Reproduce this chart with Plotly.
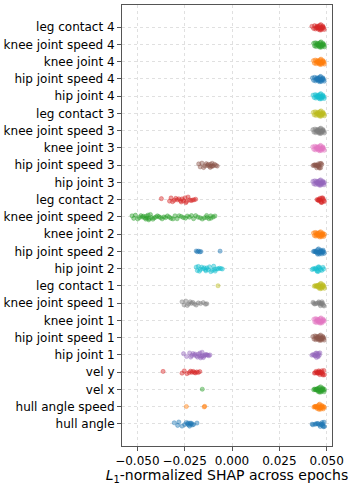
import plotly.graph_objects as go

# categories from bottom to top
categories = [
    "hull angle", "hull angle speed", "vel x", "vel y",
    "hip joint 1", "hip joint speed 1", "knee joint 1", "knee joint speed 1", "leg contact 1",
    "hip joint 2", "hip joint speed 2", "knee joint 2", "knee joint speed 2", "leg contact 2",
    "hip joint 3", "hip joint speed 3", "knee joint 3", "knee joint speed 3", "leg contact 3",
    "hip joint 4", "hip joint speed 4", "knee joint 4", "knee joint speed 4", "leg contact 4",
]

hull_angle = [-0.0305, -0.0287, -0.0281, -0.0264, -0.0250, -0.0241, -0.0236, -0.0231, -0.0228,
              -0.0224, -0.0221, -0.0218, -0.0214, -0.0209, -0.0203, -0.0185,
              0.0423, 0.0427, 0.0438, 0.0444, 0.0449, 0.0455, 0.0461, 0.0466, 0.0472, 0.0476,
              0.0479, 0.0483, 0.0486, 0.0488, 0.0481, 0.0469]
hull_angle_speed = [-0.0241, -0.0147, -0.0144,
                    0.0432, 0.0437, 0.0441, 0.0446, 0.0450, 0.0453, 0.0457, 0.0460, 0.0463, 0.0467,
                    0.0470, 0.0473, 0.0476, 0.0479, 0.0482, 0.0485, 0.0487, 0.0448, 0.0458, 0.0469,
                    0.0439, 0.0474, 0.0462]
vel_x = [-0.0157,
         0.0431, 0.0436, 0.0440, 0.0444, 0.0448, 0.0451, 0.0455, 0.0458, 0.0461, 0.0465, 0.0468,
         0.0471, 0.0474, 0.0477, 0.0480, 0.0483, 0.0486, 0.0488, 0.0446, 0.0457, 0.0469, 0.0478,
         0.0452, 0.0463]
vel_y = [-0.0364, -0.0264, -0.0252, -0.0238, -0.0226, -0.0219, -0.0212, -0.0205, -0.0199,
         -0.0193, -0.0186, -0.0178, -0.0170,
         0.0435, 0.0440, 0.0444, 0.0449, 0.0453, 0.0457, 0.0460, 0.0464, 0.0467, 0.0471, 0.0474,
         0.0478, 0.0481, 0.0485, 0.0488, 0.0450, 0.0462, 0.0476, 0.0458]
hip_joint_1 = [-0.0256, -0.0240, -0.0224, -0.0218, -0.0212, -0.0206, -0.0199, -0.0194, -0.0188,
               -0.0182, -0.0177, -0.0171, -0.0166, -0.0160, -0.0156, -0.0151, -0.0147, -0.0142,
               -0.0138, -0.0133, -0.0128, -0.0122, -0.0117, -0.0169, -0.0158,
               0.0422, 0.0428, 0.0433, 0.0438, 0.0442, 0.0446, 0.0450, 0.0453, 0.0457, 0.0461,
               0.0464, 0.0447, 0.0440, 0.0455]
hip_joint_speed_1 = [0.0427, 0.0433, 0.0438, 0.0442, 0.0446, 0.0450, 0.0454, 0.0458, 0.0461,
                     0.0464, 0.0467, 0.0470, 0.0473, 0.0476, 0.0479, 0.0482, 0.0485, 0.0487,
                     0.0444, 0.0456, 0.0468, 0.0477, 0.0452, 0.0462]
knee_joint_1 = [0.0432, 0.0437, 0.0441, 0.0445, 0.0449, 0.0452, 0.0456, 0.0459, 0.0462, 0.0466,
                0.0469, 0.0472, 0.0475, 0.0478, 0.0481, 0.0484, 0.0487, 0.0447, 0.0458, 0.0470,
                0.0480, 0.0454, 0.0465]
knee_joint_speed_1 = [-0.0264, -0.0253, -0.0244, -0.0236, -0.0229, -0.0221, -0.0214, -0.0207,
                      -0.0198, -0.0189, -0.0178, -0.0166, -0.0152, -0.0140, -0.0133,
                      0.0428, 0.0432, 0.0437, 0.0443, 0.0452, 0.0458, 0.0463, 0.0467, 0.0471,
                      0.0475, 0.0479, 0.0483, 0.0486, 0.0461, 0.0473]
leg_contact_1 = [-0.0074,
                 0.0434, 0.0439, 0.0443, 0.0447, 0.0451, 0.0455, 0.0458, 0.0461, 0.0465, 0.0468,
                 0.0471, 0.0474, 0.0477, 0.0480, 0.0483, 0.0486, 0.0488, 0.0449, 0.0460, 0.0470,
                 0.0479, 0.0456, 0.0466]
hip_joint_2 = [-0.0189, -0.0183, -0.0178, -0.0172, -0.0167, -0.0160, -0.0153, -0.0146, -0.0140,
               -0.0133, -0.0126, -0.0119, -0.0112, -0.0104, -0.0097, -0.0089, -0.0081, -0.0073,
               -0.0066, -0.0058, -0.0051, -0.0093, -0.0138,
               0.0423, 0.0429, 0.0436, 0.0441, 0.0446, 0.0451, 0.0455, 0.0459, 0.0463, 0.0468,
               0.0474, 0.0480, 0.0484, 0.0448, 0.0457]
hip_joint_speed_2 = [-0.0189, -0.0183, -0.0177, -0.0170, -0.0164, -0.0063,
                     0.0430, 0.0435, 0.0439, 0.0443, 0.0447, 0.0451, 0.0455, 0.0459, 0.0462,
                     0.0466, 0.0469, 0.0472, 0.0475, 0.0478, 0.0481, 0.0484, 0.0487, 0.0445,
                     0.0457, 0.0468, 0.0479, 0.0452, 0.0464]
knee_joint_2 = [0.0430, 0.0435, 0.0439, 0.0443, 0.0447, 0.0450, 0.0454, 0.0457, 0.0461, 0.0464,
                0.0467, 0.0470, 0.0473, 0.0476, 0.0479, 0.0482, 0.0485, 0.0488, 0.0445, 0.0456,
                0.0468, 0.0478, 0.0452, 0.0462, 0.0474]
knee_joint_speed_2 = [-0.0528, -0.0519, -0.0510, -0.0498, -0.0489, -0.0481, -0.0474, -0.0468,
                      -0.0461, -0.0455, -0.0449, -0.0443, -0.0437, -0.0431, -0.0425, -0.0418,
                      -0.0410, -0.0402, -0.0394, -0.0386, -0.0378, -0.0369, -0.0360, -0.0351,
                      -0.0341, -0.0331, -0.0322, -0.0312, -0.0301, -0.0290, -0.0279, -0.0268,
                      -0.0257, -0.0246, -0.0236, -0.0225, -0.0214, -0.0203, -0.0192, -0.0180,
                      -0.0168, -0.0157, -0.0146, -0.0134, -0.0122, -0.0111, -0.0099, -0.0090,
                      -0.0452, -0.0440, -0.0133, -0.0112]
leg_contact_2 = [-0.0373, -0.0330, -0.0322, -0.0314, -0.0305, -0.0297, -0.0289, -0.0281,
                 -0.0272, -0.0264, -0.0256, -0.0248, -0.0240, -0.0232, -0.0224, -0.0216,
                 -0.0208, -0.0200, -0.0192, -0.0268, -0.0244,
                 0.0449, 0.0453, 0.0457, 0.0461, 0.0464, 0.0467, 0.0470, 0.0473, 0.0476,
                 0.0479, 0.0482, 0.0485, 0.0488, 0.0459, 0.0471]
hip_joint_3 = [0.0427, 0.0432, 0.0437, 0.0441, 0.0445, 0.0449, 0.0452, 0.0456, 0.0459, 0.0462,
               0.0465, 0.0468, 0.0471, 0.0474, 0.0477, 0.0480, 0.0483, 0.0486, 0.0488, 0.0447,
               0.0458, 0.0469, 0.0479, 0.0454, 0.0464]
hip_joint_speed_3 = [-0.0176, -0.0168, -0.0159, -0.0150, -0.0143, -0.0136, -0.0130, -0.0125,
                     -0.0120, -0.0115, -0.0110, -0.0105, -0.0099, -0.0092, -0.0085, -0.0078,
                     -0.0113, -0.0104,
                     0.0428, 0.0433, 0.0437, 0.0441, 0.0445, 0.0449, 0.0452, 0.0456, 0.0459,
                     0.0462, 0.0465, 0.0468, 0.0471, 0.0474, 0.0447, 0.0458]
knee_joint_3 = [0.0426, 0.0432, 0.0437, 0.0441, 0.0445, 0.0449, 0.0453, 0.0456, 0.0459, 0.0463,
                0.0466, 0.0469, 0.0472, 0.0475, 0.0478, 0.0481, 0.0484, 0.0487, 0.0446, 0.0457,
                0.0468, 0.0479, 0.0452, 0.0463]
knee_joint_speed_3 = [0.0427, 0.0433, 0.0438, 0.0442, 0.0446, 0.0450, 0.0453, 0.0457, 0.0460,
                      0.0463, 0.0466, 0.0469, 0.0472, 0.0475, 0.0478, 0.0481, 0.0484, 0.0487,
                      0.0448, 0.0459, 0.0470, 0.0480, 0.0455, 0.0465]
leg_contact_3 = [0.0429, 0.0434, 0.0439, 0.0443, 0.0447, 0.0451, 0.0454, 0.0458, 0.0461, 0.0464,
                 0.0467, 0.0470, 0.0473, 0.0476, 0.0479, 0.0482, 0.0485, 0.0488, 0.0449, 0.0460,
                 0.0471, 0.0480, 0.0456, 0.0466]
hip_joint_4 = [0.0428, 0.0434, 0.0439, 0.0443, 0.0447, 0.0451, 0.0455, 0.0458, 0.0461, 0.0464,
               0.0467, 0.0470, 0.0473, 0.0476, 0.0479, 0.0482, 0.0485, 0.0487, 0.0448, 0.0459,
               0.0469, 0.0478, 0.0455, 0.0465]
hip_joint_speed_4 = [0.0425, 0.0431, 0.0436, 0.0441, 0.0445, 0.0449, 0.0453, 0.0456, 0.0460,
                     0.0463, 0.0466, 0.0469, 0.0472, 0.0475, 0.0478, 0.0481, 0.0484, 0.0487,
                     0.0447, 0.0458, 0.0468, 0.0479, 0.0453, 0.0464]
knee_joint_4 = [0.0430, 0.0435, 0.0440, 0.0444, 0.0448, 0.0452, 0.0455, 0.0459, 0.0462, 0.0465,
                0.0468, 0.0471, 0.0474, 0.0477, 0.0480, 0.0483, 0.0486, 0.0488, 0.0449, 0.0460,
                0.0470, 0.0479, 0.0456, 0.0466]
knee_joint_speed_4 = [0.0431, 0.0436, 0.0440, 0.0444, 0.0448, 0.0452, 0.0455, 0.0459, 0.0462,
                      0.0465, 0.0468, 0.0471, 0.0474, 0.0477, 0.0480, 0.0483, 0.0486, 0.0488,
                      0.0449, 0.0460, 0.0470, 0.0479, 0.0456, 0.0466]
leg_contact_4 = [0.0422, 0.0431, 0.0436, 0.0441, 0.0445, 0.0449, 0.0453, 0.0456, 0.0460, 0.0463,
                 0.0466, 0.0469, 0.0472, 0.0475, 0.0478, 0.0481, 0.0484, 0.0487, 0.0448, 0.0459,
                 0.0470, 0.0479, 0.0455, 0.0465]

series = [
    hull_angle, hull_angle_speed, vel_x, vel_y,
    hip_joint_1, hip_joint_speed_1, knee_joint_1, knee_joint_speed_1, leg_contact_1,
    hip_joint_2, hip_joint_speed_2, knee_joint_2, knee_joint_speed_2, leg_contact_2,
    hip_joint_3, hip_joint_speed_3, knee_joint_3, knee_joint_speed_3, leg_contact_3,
    hip_joint_4, hip_joint_speed_4, knee_joint_4, knee_joint_speed_4, leg_contact_4,
]

x_ticks = [-0.05, -0.025, 0.0, 0.025, 0.05]
x_tick_labels = ["\u22120.050", "\u22120.025", "0.000", "0.025", "0.050"]

tab10 = [(31, 119, 180), (255, 127, 14), (44, 160, 44), (214, 39, 40), (148, 103, 189),
         (140, 86, 75), (227, 119, 194), (127, 127, 127), (188, 189, 34), (23, 190, 207)]

fig = go.Figure()
for i, (cat, vals) in enumerate(zip(categories, series)):
    r, g, b = tab10[i % 10]
    fig.add_trace(go.Box(
        x=vals, y=[cat] * len(vals), orientation="h",
        boxpoints="all", jitter=0.7, pointpos=0, width=0.5,
        fillcolor="rgba(0,0,0,0)", line=dict(color="rgba(0,0,0,0)", width=0),
        marker=dict(size=4.2, color=f"rgba({r},{g},{b},0.45)",
                    line=dict(color=f"rgba({r},{g},{b},0.6)", width=0.6)),
        showlegend=False, hoveron="points",
    ))

font = "DejaVu Sans, sans-serif"
fig.update_layout(
    width=349, height=485, autosize=False,
    margin=dict(l=122, r=17, t=5, b=39),
    paper_bgcolor="white", plot_bgcolor="white",
    font=dict(family=font, size=12, color="black"),
    boxmode="overlay",
)
fig.update_xaxes(
    range=[-0.0581, 0.0528], autorange=False,
    tickvals=x_ticks, ticktext=x_tick_labels, tickangle=0,
    automargin=False,
    showgrid=True, gridcolor="#e0e0e0", griddash="dot", gridwidth=0.8,
    zeroline=False, showline=True, linecolor="#555555", linewidth=1, mirror=True,
    ticks="outside", ticklen=4, tickcolor="#555555",
    title=dict(text="<i>L</i><sub>1</sub>-normalized SHAP across epochs", standoff=0,
               font=dict(size=14)),
)
fig.update_yaxes(
    type="category", categoryorder="array", categoryarray=categories,
    range=[-1.28, 24.29], autorange=False, automargin=False,
    showgrid=True, gridcolor="#e0e0e0", griddash="dot", gridwidth=0.8,
    zeroline=False, showline=True, linecolor="#555555", linewidth=1, mirror=True,
    ticks="outside", ticklen=4, tickcolor="#555555",
)

fig.write_html(
    "out.html",
    config={"displayModeBar": False},
    post_script="document.body.style.margin='0';document.body.style.overflow='hidden';",
)
